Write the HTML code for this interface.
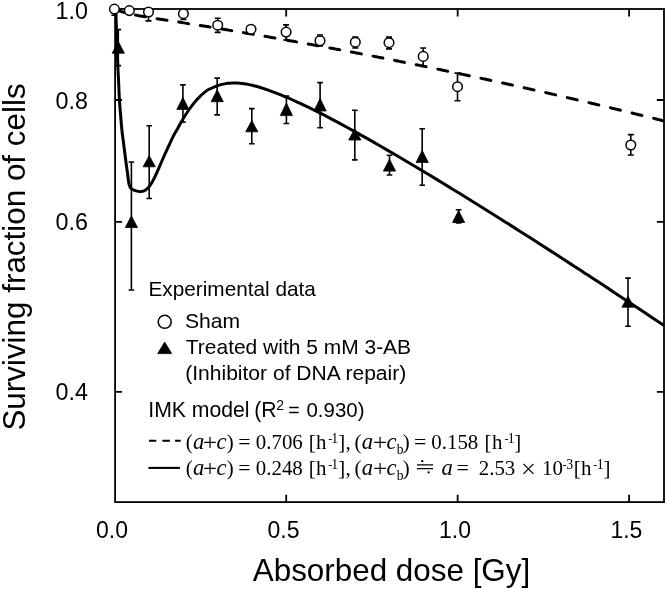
<!DOCTYPE html><html><head><meta charset="utf-8"><style>html,body{margin:0;padding:0;background:#fff}svg{display:block;will-change:transform}</style></head><body><svg width="666" height="589" viewBox="0 0 666 589">
<rect width="100%" height="100%" fill="#fff"/>
<defs><clipPath id="cp"><rect x="115.1" y="7.0" width="548.9" height="495.1"/></clipPath></defs>
<g clip-path="url(#cp)" fill="none" stroke="#000">
<path d="M115.20,9.00 C115.32,10.00 115.68,11.50 115.90,15.00 C116.12,18.50 116.28,23.67 116.50,30.00 C116.72,36.33 117.00,46.33 117.25,53.00 C117.50,59.67 117.75,64.67 118.00,70.00 C118.25,75.33 118.52,80.00 118.75,85.00 C118.98,90.00 119.09,95.00 119.40,100.00 C119.71,105.00 120.18,110.00 120.60,115.00 C121.02,120.00 121.43,125.50 121.90,130.00 C122.37,134.50 122.90,138.03 123.40,142.00 C123.90,145.97 124.42,150.05 124.90,153.80 C125.38,157.55 125.82,160.93 126.30,164.50 C126.78,168.07 127.35,171.95 127.80,175.20 C128.25,178.45 128.40,181.73 129.00,184.00 C129.60,186.27 130.22,187.65 131.40,188.80 C132.58,189.95 134.52,190.43 136.10,190.90 C137.68,191.37 139.30,191.75 140.90,191.60 C142.50,191.45 144.22,190.95 145.70,190.00 C147.18,189.05 148.42,187.78 149.80,185.90 C151.18,184.02 152.32,182.07 154.00,178.70 C155.68,175.33 158.18,169.57 159.90,165.70 C161.62,161.83 162.80,158.87 164.30,155.50 C165.80,152.13 167.35,148.82 168.90,145.50 C170.45,142.18 172.28,138.18 173.60,135.60 C174.92,133.02 175.43,132.43 176.80,130.00 C178.17,127.57 179.75,124.42 181.80,121.00 C183.85,117.58 186.57,113.08 189.10,109.50 C191.63,105.92 194.18,102.57 197.00,99.50 C199.82,96.43 203.50,93.02 206.00,91.10 C208.50,89.18 210.05,88.90 212.00,88.00 C213.95,87.10 215.80,86.34 217.70,85.70 C219.60,85.06 221.68,84.55 223.40,84.15 C225.12,83.75 226.57,83.50 228.00,83.30 C229.43,83.10 230.63,83.01 232.00,82.95 C233.37,82.89 234.85,82.89 236.22,82.92 C237.59,82.96 238.88,83.03 240.22,83.15 C241.55,83.28 242.88,83.46 244.22,83.67 C245.55,83.88 246.88,84.13 248.22,84.40 C249.55,84.67 250.88,84.97 252.22,85.29 C253.55,85.61 254.88,85.96 256.22,86.32 C257.55,86.69 258.88,87.08 260.22,87.48 C261.55,87.88 262.88,88.31 264.22,88.74 C265.55,89.18 266.88,89.64 268.22,90.10 C269.55,90.57 270.88,91.05 272.22,91.54 C273.55,92.04 274.88,92.54 276.22,93.06 C277.55,93.58 278.88,94.11 280.22,94.65 C281.55,95.18 282.88,95.73 284.22,96.29 C285.55,96.85 286.88,97.42 288.22,97.99 C289.55,98.57 290.88,99.16 292.22,99.75 C293.55,100.34 294.88,100.94 296.22,101.55 C297.55,102.16 298.22,102.45 300.22,103.39 C302.22,104.34 305.55,105.91 308.22,107.20 C310.88,108.49 313.55,109.81 316.22,111.14 C318.88,112.48 321.55,113.84 324.22,115.21 C326.88,116.58 329.55,117.97 332.22,119.37 C334.88,120.78 337.55,122.20 340.22,123.63 C342.88,125.06 345.55,126.51 348.22,127.97 C350.88,129.42 353.55,130.89 356.22,132.37 C358.88,133.85 361.55,135.34 364.22,136.84 C366.88,138.34 369.55,139.86 372.22,141.37 C374.88,142.89 377.55,144.42 380.22,145.95 C382.88,147.49 385.55,149.03 388.22,150.58 C390.88,152.13 393.55,153.69 396.22,155.25 C398.88,156.82 401.55,158.39 404.22,159.96 C406.88,161.54 409.55,163.12 412.22,164.71 C414.88,166.30 417.55,167.89 420.22,169.49 C422.88,171.09 425.55,172.70 428.22,174.30 C430.88,175.91 433.55,177.53 436.22,179.15 C438.88,180.77 441.55,182.39 444.22,184.02 C446.88,185.64 449.55,187.28 452.22,188.91 C454.88,190.55 457.55,192.19 460.22,193.84 C462.88,195.48 465.55,197.13 468.22,198.78 C470.88,200.43 473.55,202.09 476.22,203.75 C478.88,205.41 481.55,207.07 484.22,208.74 C486.88,210.41 489.55,212.08 492.22,213.75 C494.88,215.42 497.55,217.10 500.22,218.78 C502.88,220.46 505.55,222.15 508.22,223.83 C510.88,225.52 513.55,227.21 516.22,228.90 C518.88,230.60 521.55,232.29 524.22,233.99 C526.88,235.69 529.55,237.39 532.22,239.10 C534.88,240.80 537.55,242.51 540.22,244.22 C542.88,245.94 545.55,247.65 548.22,249.37 C550.88,251.08 553.55,252.80 556.22,254.53 C558.88,256.25 561.55,257.97 564.22,259.70 C566.88,261.43 569.55,263.16 572.22,264.89 C574.88,266.63 577.54,268.36 580.22,270.10 C582.89,271.85 585.59,273.61 588.27,275.36 C590.94,277.11 593.60,278.85 596.27,280.60 C598.93,282.35 601.60,284.10 604.27,285.86 C606.93,287.61 609.60,289.37 612.27,291.13 C614.93,292.89 617.60,294.65 620.27,296.42 C622.93,298.18 625.60,299.95 628.27,301.72 C630.93,303.49 633.60,305.26 636.27,307.04 C638.93,308.81 641.60,310.59 644.27,312.37 C646.93,314.15 649.60,315.93 652.27,317.72 C654.93,319.50 657.60,321.29 660.27,323.08 C662.93,324.87 666.93,327.56 668.27,328.46" stroke-width="3.0" stroke-linejoin="round"/>
<path d="M114.75,9.00 L116.26,9.70 L117.77,10.33 L119.28,10.90 L120.80,11.43 L122.31,11.91 L123.82,12.36 M135.51,15.06 L137.16,15.37 L138.81,15.68 L140.46,15.97 L142.11,16.26 L143.76,16.54 L145.41,16.82 M157.10,18.71 L158.75,18.97 L160.40,19.23 L162.05,19.48 L163.70,19.74 L165.35,20.00 L167.00,20.26 M178.69,22.09 L180.34,22.34 L181.99,22.60 L183.64,22.86 L185.29,23.12 L186.94,23.39 L188.59,23.65 M200.28,25.51 L201.93,25.78 L203.58,26.04 L205.23,26.31 L206.88,26.58 L208.53,26.84 L210.18,27.11 M221.87,29.02 L223.52,29.30 L225.17,29.57 L226.82,29.84 L228.47,30.11 L230.12,30.39 L231.77,30.66 M243.46,32.63 L245.11,32.90 L246.76,33.18 L248.41,33.46 L250.06,33.74 L251.71,34.03 L253.36,34.31 M265.05,36.32 L266.70,36.60 L268.35,36.89 L270.00,37.18 L271.65,37.47 L273.30,37.75 L274.95,38.04 M286.64,40.10 L288.29,40.40 L289.94,40.69 L291.59,40.98 L293.24,41.28 L294.89,41.57 L296.54,41.87 M308.23,43.98 L309.88,44.28 L311.53,44.58 L313.18,44.88 L314.83,45.18 L316.48,45.48 L318.13,45.79 M329.82,47.95 L331.47,48.25 L333.12,48.56 L334.77,48.87 L336.42,49.18 L338.07,49.49 L339.72,49.79 M351.41,52.00 L353.06,52.32 L354.71,52.63 L356.36,52.95 L358.01,53.26 L359.66,53.58 L361.31,53.89 M373.00,56.15 L374.65,56.47 L376.30,56.79 L377.95,57.12 L379.60,57.44 L381.25,57.76 L382.90,58.09 M394.59,60.39 L396.24,60.72 L397.89,61.05 L399.54,61.38 L401.19,61.71 L402.84,62.04 L404.49,62.37 M416.18,64.72 L417.83,65.06 L419.48,65.39 L421.13,65.73 L422.78,66.07 L424.43,66.40 L426.08,66.74 M437.77,69.15 L439.42,69.49 L441.07,69.83 L442.72,70.17 L444.37,70.52 L446.02,70.86 L447.67,71.21 M459.36,73.66 L461.01,74.01 L462.66,74.36 L464.31,74.71 L465.96,75.06 L467.61,75.41 L469.26,75.76 M480.95,78.27 L482.60,78.62 L484.25,78.98 L485.90,79.33 L487.55,79.69 L489.20,80.05 L490.85,80.41 M502.54,82.96 L504.19,83.32 L505.84,83.69 L507.49,84.05 L509.14,84.42 L510.79,84.78 L512.44,85.15 M524.13,87.75 L525.78,88.12 L527.43,88.49 L529.08,88.86 L530.73,89.23 L532.38,89.60 L534.03,89.98 M545.72,92.63 L547.37,93.00 L549.02,93.38 L550.67,93.76 L552.32,94.14 L553.97,94.52 L555.62,94.90 M567.31,97.60 L568.96,97.98 L570.61,98.37 L572.26,98.75 L573.91,99.14 L575.56,99.52 L577.21,99.91 M588.90,102.66 L590.55,103.05 L592.20,103.44 L593.85,103.83 L595.50,104.22 L597.15,104.62 L598.80,105.01 M610.49,107.81 L612.14,108.21 L613.79,108.61 L615.44,109.00 L617.09,109.40 L618.74,109.80 L620.39,110.20 M632.08,113.05 L633.73,113.46 L635.38,113.86 L637.03,114.27 L638.68,114.68 L640.33,115.08 L641.98,115.49 M653.67,118.39 L655.32,118.80 L656.97,119.21 L658.62,119.62 L660.27,120.04 L661.92,120.45 L663.57,120.87" stroke-width="3.0" stroke-linecap="round"/>
</g>
<rect x="115.10" y="9.00" width="548.90" height="493.10" fill="none" stroke="#000" stroke-width="1.8"/>
<path d="M115.10,100.00 h7.0 M664.00,100.00 h-7.2 M115.10,221.90 h7.0 M664.00,221.90 h-7.2 M115.10,391.90 h7.0 M664.00,391.90 h-7.2 M286.20,502.10 v-7.4 M286.20,9.00 v7.4 M457.65,502.10 v-7.4 M457.65,9.00 v7.4 M629.10,502.10 v-7.4 M629.10,9.00 v7.4" stroke="#000" stroke-width="1.8" fill="none"/>
<path d="M118.30,29.60 V65.60 M115.50,29.60 h5.6 M115.50,65.60 h5.6 M131.40,162.00 V290.00 M128.60,162.00 h5.6 M128.60,290.00 h5.6 M149.20,125.70 V198.50 M146.40,125.70 h5.6 M146.40,198.50 h5.6 M182.90,84.90 V122.10 M180.10,84.90 h5.6 M180.10,122.10 h5.6 M217.20,78.10 V114.90 M214.40,78.10 h5.6 M214.40,114.90 h5.6 M251.80,108.60 V143.70 M249.00,108.60 h5.6 M249.00,143.70 h5.6 M286.40,96.00 V123.50 M283.60,96.00 h5.6 M283.60,123.50 h5.6 M320.10,82.60 V127.80 M317.30,82.60 h5.6 M317.30,127.80 h5.6 M354.80,110.30 V159.90 M352.00,110.30 h5.6 M352.00,159.90 h5.6 M389.50,155.20 V175.00 M386.70,155.20 h5.6 M386.70,175.00 h5.6 M422.20,128.80 V185.30 M419.40,128.80 h5.6 M419.40,185.30 h5.6 M458.60,209.80 V223.00 M455.80,209.80 h5.6 M455.80,223.00 h5.6 M628.00,278.10 V326.30 M625.20,278.10 h5.6 M625.20,326.30 h5.6 M114.40,9.10 V15.30 M111.40,15.30 h6  M148.50,12.00 V20.90 M145.50,20.90 h6  M183.40,13.70 V19.50 M180.40,19.50 h6  M217.70,18.30 V25.20 M214.70,18.30 h6  M217.70,25.20 V32.40 M214.70,32.40 h6  M286.10,24.90 V32.10 M283.10,24.90 h6  M286.10,32.10 V40.00 M283.10,40.00 h6  M320.00,35.00 V40.75 M317.00,35.00 h6  M320.00,40.75 V46.00 M317.00,46.00 h6  M355.30,37.10 V42.20 M352.30,37.10 h6  M355.30,42.20 V48.00 M352.30,48.00 h6  M389.00,37.10 V42.70 M386.00,37.10 h6  M389.00,42.70 V48.90 M386.00,48.90 h6  M423.20,48.00 V56.40 M420.20,48.00 h6  M423.20,56.40 V66.00 M420.20,66.00 h6  M457.50,73.10 V86.70 M454.50,73.10 h6  M457.50,86.70 V100.70 M454.50,100.70 h6  M630.80,134.60 V145.00 M627.80,134.60 h6  M630.80,145.00 V155.00 M627.80,155.00 h6 " stroke="#000" stroke-width="1.6" fill="none"/>
<path d="M118.30,41.60 L124.40,53.20 L112.20,53.20 Z" fill="#000" stroke="#000" stroke-width="0.8" stroke-linejoin="round"/>
<path d="M131.40,215.90 L137.50,227.50 L125.30,227.50 Z" fill="#000" stroke="#000" stroke-width="0.8" stroke-linejoin="round"/>
<path d="M149.20,155.70 L155.30,166.80 L143.10,166.80 Z" fill="#000" stroke="#000" stroke-width="0.8" stroke-linejoin="round"/>
<path d="M182.90,97.40 L189.00,109.40 L176.80,109.40 Z" fill="#000" stroke="#000" stroke-width="0.8" stroke-linejoin="round"/>
<path d="M217.20,89.70 L223.30,101.70 L211.10,101.70 Z" fill="#000" stroke="#000" stroke-width="0.8" stroke-linejoin="round"/>
<path d="M251.80,120.60 L257.90,131.80 L245.70,131.80 Z" fill="#000" stroke="#000" stroke-width="0.8" stroke-linejoin="round"/>
<path d="M286.40,103.00 L292.50,115.60 L280.30,115.60 Z" fill="#000" stroke="#000" stroke-width="0.8" stroke-linejoin="round"/>
<path d="M320.10,98.40 L326.20,111.00 L314.00,111.00 Z" fill="#000" stroke="#000" stroke-width="0.8" stroke-linejoin="round"/>
<path d="M354.80,128.80 L360.90,140.00 L348.70,140.00 Z" fill="#000" stroke="#000" stroke-width="0.8" stroke-linejoin="round"/>
<path d="M389.50,159.20 L395.60,171.10 L383.40,171.10 Z" fill="#000" stroke="#000" stroke-width="0.8" stroke-linejoin="round"/>
<path d="M422.20,150.30 L428.30,162.50 L416.10,162.50 Z" fill="#000" stroke="#000" stroke-width="0.8" stroke-linejoin="round"/>
<path d="M458.60,210.60 L464.70,222.50 L452.50,222.50 Z" fill="#000" stroke="#000" stroke-width="0.8" stroke-linejoin="round"/>
<path d="M628.00,296.30 L634.10,307.20 L621.90,307.20 Z" fill="#000" stroke="#000" stroke-width="0.8" stroke-linejoin="round"/>
<circle cx="114.40" cy="9.10" r="4.8" fill="#fff" stroke="#000" stroke-width="1.5"/>
<circle cx="129.30" cy="10.60" r="4.8" fill="#fff" stroke="#000" stroke-width="1.5"/>
<circle cx="148.50" cy="12.00" r="4.8" fill="#fff" stroke="#000" stroke-width="1.5"/>
<circle cx="183.40" cy="13.70" r="4.8" fill="#fff" stroke="#000" stroke-width="1.5"/>
<circle cx="217.70" cy="25.20" r="4.8" fill="#fff" stroke="#000" stroke-width="1.5"/>
<circle cx="251.00" cy="29.20" r="4.8" fill="#fff" stroke="#000" stroke-width="1.5"/>
<circle cx="286.10" cy="32.10" r="4.8" fill="#fff" stroke="#000" stroke-width="1.5"/>
<circle cx="320.00" cy="40.75" r="4.8" fill="#fff" stroke="#000" stroke-width="1.5"/>
<circle cx="355.30" cy="42.20" r="4.8" fill="#fff" stroke="#000" stroke-width="1.5"/>
<circle cx="389.00" cy="42.70" r="4.8" fill="#fff" stroke="#000" stroke-width="1.5"/>
<circle cx="423.20" cy="56.40" r="4.8" fill="#fff" stroke="#000" stroke-width="1.5"/>
<circle cx="457.50" cy="86.70" r="4.8" fill="#fff" stroke="#000" stroke-width="1.5"/>
<circle cx="630.80" cy="145.00" r="4.8" fill="#fff" stroke="#000" stroke-width="1.5"/>
<text x="87.90" y="19.00" font-size="23.30" text-anchor="end" font-family="Liberation Sans, sans-serif" fill="#000" >1.0</text>
<text x="87.90" y="109.00" font-size="23.30" text-anchor="end" font-family="Liberation Sans, sans-serif" fill="#000" >0.8</text>
<text x="87.90" y="229.80" font-size="23.30" text-anchor="end" font-family="Liberation Sans, sans-serif" fill="#000" >0.6</text>
<text x="87.90" y="399.80" font-size="23.30" text-anchor="end" font-family="Liberation Sans, sans-serif" fill="#000" >0.4</text>
<text x="112.05" y="538.30" font-size="23.00" text-anchor="middle" font-family="Liberation Sans, sans-serif" fill="#000" >0.0</text>
<text x="283.50" y="538.30" font-size="23.00" text-anchor="middle" font-family="Liberation Sans, sans-serif" fill="#000" >0.5</text>
<text x="454.95" y="538.30" font-size="23.00" text-anchor="middle" font-family="Liberation Sans, sans-serif" fill="#000" >1.0</text>
<text x="626.40" y="538.30" font-size="23.00" text-anchor="middle" font-family="Liberation Sans, sans-serif" fill="#000" >1.5</text>
<text x="391.50" y="581.30" font-size="31.40" text-anchor="middle" font-family="Liberation Sans, sans-serif" fill="#000" >Absorbed dose [Gy]</text>
<text transform="translate(24.6,257) rotate(-90)" font-size="31.4" text-anchor="middle" font-family="Liberation Sans, sans-serif">Surviving fraction of cells</text>
<text x="148.50" y="296.10" font-size="20.78" text-anchor="start" font-family="Liberation Sans, sans-serif" fill="#000" >Experimental data</text>
<text x="185.00" y="328.40" font-size="21.10" text-anchor="start" font-family="Liberation Sans, sans-serif" fill="#000" >Sham</text>
<text x="185.80" y="354.30" font-size="20.97" text-anchor="start" font-family="Liberation Sans, sans-serif" fill="#000" >Treated with 5 mM 3-AB</text>
<text x="185.20" y="380.30" font-size="21.05" text-anchor="start" font-family="Liberation Sans, sans-serif" fill="#000" >(Inhibitor of DNA repair)</text>
<circle cx="164.7" cy="321.85" r="6.5" fill="#fff" stroke="#000" stroke-width="1.5"/>
<path d="M164.7,342.0 L171.7,353.6 L157.7,353.6 Z" fill="#000" stroke="#000" stroke-width="0.8" stroke-linejoin="round"/>
<text x="148.29" y="417.10" font-size="21.20" font-family="Liberation Sans, sans-serif">IMK model</text>
<text x="254.13" y="417.10" font-size="21.20" font-family="Liberation Sans, sans-serif">(R</text>
<text x="276.20" y="410.40" font-size="14.00" font-family="Liberation Sans, sans-serif">2</text>
<text x="288.22" y="416.60" font-size="19.60" font-family="Liberation Sans, sans-serif">=</text>
<text x="306.49" y="417.10" font-size="20.45" font-family="Liberation Sans, sans-serif">0.930)</text>
<path d="M149.0,440.7 H156.3 M162.4,440.7 H170.0 M175.1,440.7 H180.7" stroke="#000" stroke-width="2.1"/>
<path d="M148.4,467.9 H179.9" stroke="#000" stroke-width="2.1"/>
<text x="185.76" y="448.70" font-size="20.90" font-family="Liberation Serif, serif">(</text>
<text x="193.05" y="448.70" font-size="22.60" font-family="Liberation Serif, serif" font-style="italic">a</text>
<path d="M204.20,442.40 h11.6 M210.00,436.90 v11" stroke="#000" stroke-width="1.2" fill="none"/>
<text x="216.52" y="448.70" font-size="22.60" font-family="Liberation Serif, serif" font-style="italic">c</text>
<text x="226.77" y="448.70" font-size="20.90" font-family="Liberation Serif, serif">)</text>
<text x="238.13" y="449.20" font-size="21.80" font-family="Liberation Serif, serif">=</text>
<text x="255.77" y="448.70" font-size="20.90" font-family="Liberation Serif, serif">0.706</text>
<text x="308.84" y="448.70" font-size="20.90" font-family="Liberation Serif, serif">[</text>
<text x="316.00" y="448.70" font-size="20.90" font-family="Liberation Serif, serif">h</text>
<text x="328.14" y="442.70" font-size="12.00" font-family="Liberation Serif, serif">-</text>
<text x="331.30" y="442.70" font-size="13.80" font-family="Liberation Serif, serif">1</text>
<text x="338.37" y="448.70" font-size="20.90" font-family="Liberation Serif, serif">]</text>
<text x="345.47" y="448.70" font-size="20.90" font-family="Liberation Serif, serif">,</text>
<text x="354.56" y="448.70" font-size="20.90" font-family="Liberation Serif, serif">(</text>
<text x="361.65" y="448.70" font-size="22.60" font-family="Liberation Serif, serif" font-style="italic">a</text>
<path d="M374.30,442.40 h11.6 M380.10,436.90 v11" stroke="#000" stroke-width="1.2" fill="none"/>
<text x="386.52" y="448.70" font-size="22.60" font-family="Liberation Serif, serif" font-style="italic">c</text>
<text x="396.80" y="453.70" font-size="13.60" font-family="Liberation Serif, serif">b</text>
<text x="402.77" y="448.70" font-size="20.90" font-family="Liberation Serif, serif">)</text>
<text x="413.93" y="449.20" font-size="21.80" font-family="Liberation Serif, serif">=</text>
<text x="431.27" y="448.70" font-size="20.90" font-family="Liberation Serif, serif">0.158</text>
<text x="484.44" y="448.70" font-size="20.90" font-family="Liberation Serif, serif">[</text>
<text x="492.00" y="448.70" font-size="20.90" font-family="Liberation Serif, serif">h</text>
<text x="504.44" y="442.70" font-size="12.00" font-family="Liberation Serif, serif">-</text>
<text x="507.80" y="442.70" font-size="13.80" font-family="Liberation Serif, serif">1</text>
<text x="514.37" y="448.70" font-size="20.90" font-family="Liberation Serif, serif">]</text>
<text x="185.76" y="474.70" font-size="20.90" font-family="Liberation Serif, serif">(</text>
<text x="193.05" y="474.70" font-size="22.60" font-family="Liberation Serif, serif" font-style="italic">a</text>
<path d="M204.20,468.40 h11.6 M210.00,462.90 v11" stroke="#000" stroke-width="1.2" fill="none"/>
<text x="216.52" y="474.70" font-size="22.60" font-family="Liberation Serif, serif" font-style="italic">c</text>
<text x="226.77" y="474.70" font-size="20.90" font-family="Liberation Serif, serif">)</text>
<text x="238.13" y="475.20" font-size="21.80" font-family="Liberation Serif, serif">=</text>
<text x="255.77" y="474.70" font-size="20.90" font-family="Liberation Serif, serif">0.248</text>
<text x="308.84" y="474.70" font-size="20.90" font-family="Liberation Serif, serif">[</text>
<text x="316.00" y="474.70" font-size="20.90" font-family="Liberation Serif, serif">h</text>
<text x="328.14" y="468.70" font-size="12.00" font-family="Liberation Serif, serif">-</text>
<text x="331.30" y="468.70" font-size="13.80" font-family="Liberation Serif, serif">1</text>
<text x="338.37" y="474.70" font-size="20.90" font-family="Liberation Serif, serif">]</text>
<text x="345.47" y="474.70" font-size="20.90" font-family="Liberation Serif, serif">,</text>
<text x="354.56" y="474.70" font-size="20.90" font-family="Liberation Serif, serif">(</text>
<text x="361.65" y="474.70" font-size="22.60" font-family="Liberation Serif, serif" font-style="italic">a</text>
<path d="M374.30,468.40 h11.6 M380.10,462.90 v11" stroke="#000" stroke-width="1.2" fill="none"/>
<text x="386.52" y="474.70" font-size="22.60" font-family="Liberation Serif, serif" font-style="italic">c</text>
<text x="396.80" y="479.70" font-size="13.60" font-family="Liberation Serif, serif">b</text>
<text x="402.77" y="474.70" font-size="20.90" font-family="Liberation Serif, serif">)</text>
<text x="441.45" y="474.70" font-size="22.60" font-family="Liberation Serif, serif" font-style="italic">a</text>
<text x="456.53" y="475.20" font-size="21.80" font-family="Liberation Serif, serif">=</text>
<text x="478.76" y="474.70" font-size="20.90" font-family="Liberation Serif, serif">2.53</text>
<path d="M523.45,463.85 l10,10 M523.45,473.85 l10,-10" stroke="#000" stroke-width="1.25" fill="none"/>
<text x="542.03" y="474.70" font-size="20.90" font-family="Liberation Serif, serif">10</text>
<text x="562.44" y="468.70" font-size="12.00" font-family="Liberation Serif, serif">-</text>
<text x="566.25" y="468.70" font-size="13.80" font-family="Liberation Serif, serif">3</text>
<text x="573.84" y="474.70" font-size="20.90" font-family="Liberation Serif, serif">[</text>
<text x="580.90" y="474.70" font-size="20.90" font-family="Liberation Serif, serif">h</text>
<text x="593.34" y="468.70" font-size="12.00" font-family="Liberation Serif, serif">-</text>
<text x="596.70" y="468.70" font-size="13.80" font-family="Liberation Serif, serif">1</text>
<text x="603.57" y="474.70" font-size="20.90" font-family="Liberation Serif, serif">]</text>
<path d="M417.0,464.9 H433.0 M417.0,468.7 H433.0" stroke="#000" stroke-width="1.25" fill="none"/>
<circle cx="422.3" cy="461.2" r="1.15"/><circle cx="428.6" cy="472.3" r="1.15"/>
</svg></body></html>
